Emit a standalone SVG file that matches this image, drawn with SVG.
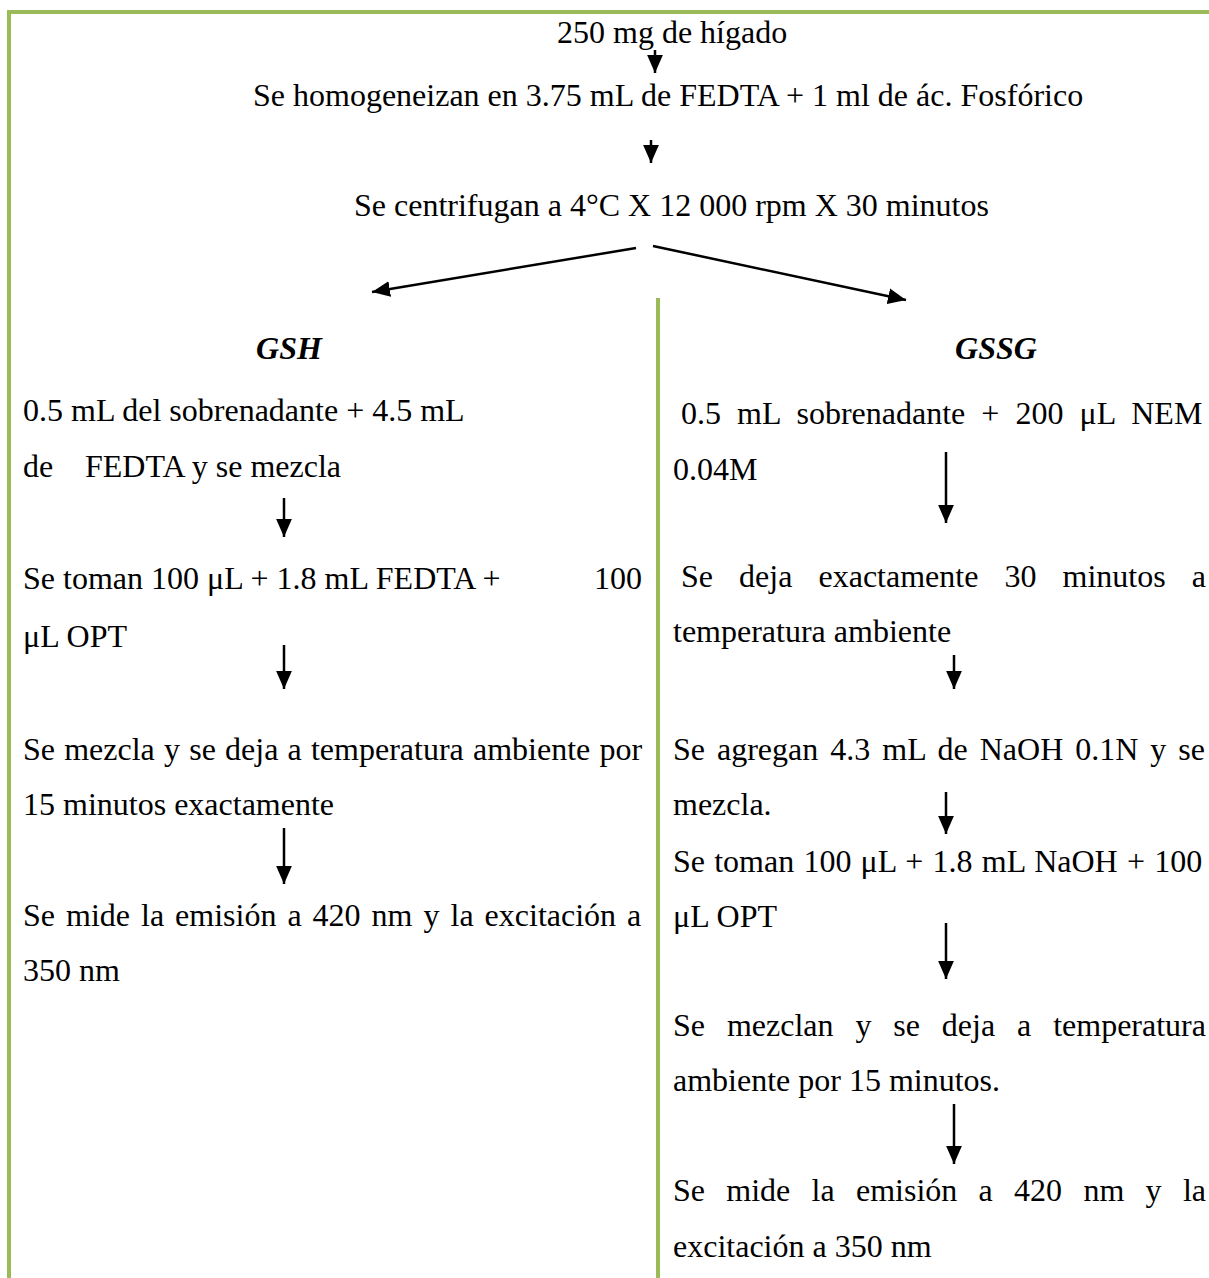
<svg xmlns="http://www.w3.org/2000/svg" width="1209" height="1278" viewBox="0 0 1209 1278">
<style>
.t{font-family:"Liberation Serif","Times New Roman",serif;font-size:32px;fill:#000}
.h{font-family:"Liberation Serif","Times New Roman",serif;font-size:32px;font-weight:bold;font-style:italic;fill:#000}
.frame{stroke:#9BBB59;stroke-width:4;fill:none}
.arr{stroke:#000;stroke-width:2.5;fill:none;marker-end:url(#ah)}
</style>
<defs>
<marker id="ah" markerUnits="userSpaceOnUse" markerWidth="18" markerHeight="16" refX="16" refY="7" orient="auto" viewBox="0 0 16 14">
<path d="M0,0 L16,7 L0,14 Z" fill="#000"/>
</marker>
</defs>
<rect width="1209" height="1278" fill="#fff"/>
<g id="frame">
<path class="frame" d="M9,1278 V12 H1209"/>
<path class="frame" d="M658,298 V1278" stroke-width="3"/>
</g>
<g id="top">
<text class="t" x="557" y="43">250 mg de hígado</text>
<text class="t" x="253" y="106">Se homogeneizan en 3.75 mL de FEDTA + 1 ml de ác. Fosfórico</text>
<text class="t" x="354" y="216">Se centrifugan a 4°C X 12 000 rpm X 30 minutos</text>
</g>
<g id="gsh">
<text class="h" x="289" y="359" text-anchor="middle">GSH</text>
<text class="t" x="23" y="421">0.5 mL del sobrenadante + 4.5 mL</text>
<text class="t" y="477"><tspan x="23">de</tspan><tspan x="85">FEDTA y se mezcla</tspan></text>
<text class="t" y="589"><tspan x="23">Se toman 100 μL + 1.8 mL FEDTA +</tspan><tspan x="642" text-anchor="end">100</tspan></text>
<text class="t" x="23" y="647">μL OPT</text>
<text class="t" x="23" y="760" word-spacing="1.2">Se mezcla y se deja a temperatura ambiente por</text>
<text class="t" x="23" y="815">15 minutos exactamente</text>
<text class="t" x="23" y="926" word-spacing="3">Se mide la emisión a 420 nm y la excitación a</text>
<text class="t" x="23" y="981">350 nm</text>
</g>
<g id="gssg">
<text class="h" x="996" y="359" text-anchor="middle">GSSG</text>
<text class="t" x="681" y="424" word-spacing="8.1">0.5 mL sobrenadante + 200 μL NEM</text>
<text class="t" x="673" y="480">0.04M</text>
<text class="t" x="681" y="587" word-spacing="18.1">Se deja exactamente 30 minutos a</text>
<text class="t" x="673" y="642">temperatura ambiente</text>
<text class="t" x="673" y="760" word-spacing="4">Se agregan 4.3 mL de NaOH 0.1N y se</text>
<text class="t" x="673" y="815">mezcla.</text>
<text class="t" x="673" y="872" word-spacing="1.2">Se toman 100 μL + 1.8 mL NaOH + 100</text>
<text class="t" x="673" y="927">μL OPT</text>
<text class="t" x="673" y="1036" word-spacing="13.9">Se mezclan y se deja a temperatura</text>
<text class="t" x="673" y="1091">ambiente por 15 minutos.</text>
<text class="t" x="673" y="1201" word-spacing="13.3">Se mide la emisión a 420 nm y la</text>
<text class="t" x="673" y="1257">excitación a 350 nm</text>
</g>
<g id="connectors">
<line class="arr" x1="655" y1="50" x2="655" y2="73"/>
<line class="arr" x1="651" y1="140" x2="651" y2="163"/>
<line class="arr" x1="636" y1="248" x2="372" y2="292"/>
<line class="arr" x1="653" y1="246" x2="906" y2="300"/>
<line class="arr" x1="284" y1="498" x2="284" y2="537"/>
<line class="arr" x1="284" y1="645" x2="284" y2="689"/>
<line class="arr" x1="284" y1="828" x2="284" y2="884"/>
<line class="arr" x1="946" y1="452" x2="946" y2="523"/>
<line class="arr" x1="954" y1="655" x2="954" y2="689"/>
<line class="arr" x1="946" y1="792" x2="946" y2="834"/>
<line class="arr" x1="946" y1="923" x2="946" y2="979"/>
<line class="arr" x1="954" y1="1104" x2="954" y2="1164"/>
</g>
</svg>
